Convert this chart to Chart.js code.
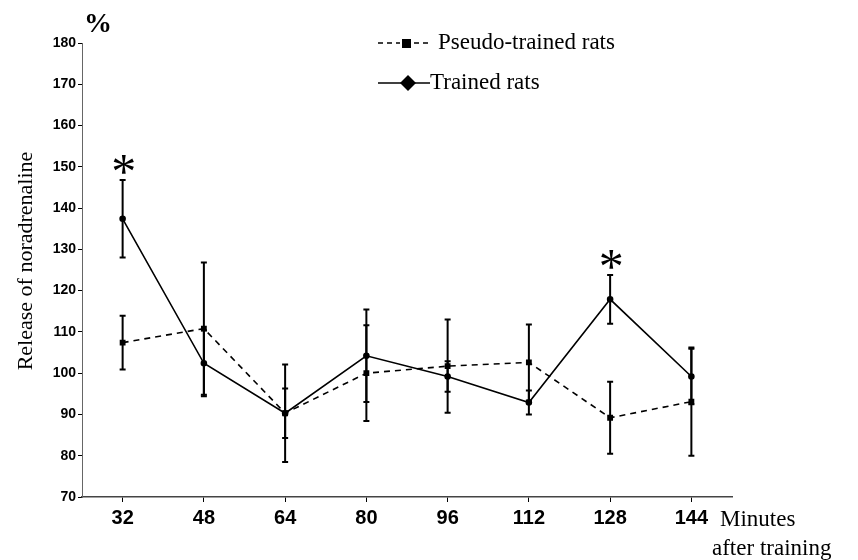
<!DOCTYPE html>
<html>
<head>
<meta charset="utf-8">
<script src="https://cdn.jsdelivr.net/npm/chart.js"></script>
<style>
  html, body { margin: 0; padding: 0; background: #fff; }
  #wrap { width: 858px; height: 560px; }
</style>
</head>
<body>
<div id="wrap"><canvas id="grafico"></canvas></div>
<script>
// Datos
const minutos = ['32', '48', '64', '80', '96', '112', '128', '144'];
const pseudoMedia = [107.4, 110.8, 90.3, 100.0, 101.7, 102.6, 89.2, 93.1];
const pseudoError = [6.5, 16.0, 11.8, 11.6, 11.3, 9.2, 8.7, 13.1];
const entrenadosMedia = [137.4, 102.4, 90.3, 104.2, 99.2, 92.9, 117.9, 99.2];
const entrenadosError = [9.4, 8.0, 6.0, 11.2, 3.7, 2.9, 5.9, 6.7];
const significativos = ['32', '128'];
const ticksY = [70, 80, 90, 100, 110, 120, 130, 140, 150, 160, 170, 180];

const serif = '"Liberation Serif", "Times New Roman", serif';
const sans = '"Liberation Sans", Arial, sans-serif';

// Barras de error, asteriscos y textos sueltos
const extras = {
  id: 'extras',
  afterDatasetsDraw(chart) {
    const ctx = chart.ctx;
    const x = chart.scales.x, y = chart.scales.y;
    ctx.save();
    ctx.strokeStyle = '#000';
    ctx.lineWidth = 2;
    const barras = (medias, errores) => {
      medias.forEach((m, i) => {
        const px = x.getPixelForValue(i);
        const top = y.getPixelForValue(m + errores[i]);
        const bot = y.getPixelForValue(m - errores[i]);
        ctx.beginPath();
        ctx.moveTo(px, top); ctx.lineTo(px, bot);
        ctx.moveTo(px - 3, top); ctx.lineTo(px + 3, top);
        ctx.moveTo(px - 3, bot); ctx.lineTo(px + 3, bot);
        ctx.stroke();
      });
    };
    barras(pseudoMedia, pseudoError);
    barras(entrenadosMedia, entrenadosError);

    // asteriscos de significancia
    ctx.fillStyle = '#000';
    ctx.font = '50px ' + serif;
    ctx.textAlign = 'center';
    ctx.textBaseline = 'alphabetic';
    significativos.forEach(lbl => {
      const i = minutos.indexOf(lbl);
      const px = x.getPixelForValue(i);
      const top = y.getPixelForValue(entrenadosMedia[i] + entrenadosError[i]);
      ctx.fillText('*', px + 1, top + 8);
    });

    // %
    ctx.font = 'bold 28px ' + serif;
    ctx.textAlign = 'left';
    ctx.fillText('%', 84, 32);

    // título eje Y
    ctx.save();
    ctx.translate(26, 261);
    ctx.rotate(-Math.PI / 2);
    ctx.textAlign = 'center';
    ctx.textBaseline = 'middle';
    ctx.font = '22px ' + serif;
    ctx.fillText('Release of noradrenaline', 0, 0);
    ctx.restore();

    // título eje X
    ctx.font = '23px ' + serif;
    ctx.textAlign = 'left';
    ctx.textBaseline = 'middle';
    ctx.fillText('Minutes', 720, 520);
    ctx.fillText('after training', 712, 549);

    // leyenda
    ctx.lineWidth = 1.5;
    ctx.setLineDash([5, 4]);
    ctx.beginPath(); ctx.moveTo(378, 43); ctx.lineTo(432, 43); ctx.stroke();
    ctx.setLineDash([]);
    ctx.fillStyle = '#fff';
    ctx.fillRect(400, 38, 12, 10);
    ctx.fillStyle = '#000';
    ctx.fillRect(402, 39, 9, 9);
    ctx.beginPath(); ctx.moveTo(378, 83); ctx.lineTo(430, 83); ctx.stroke();
    ctx.beginPath();
    ctx.moveTo(408, 75); ctx.lineTo(416, 83); ctx.lineTo(408, 91); ctx.lineTo(400, 83);
    ctx.closePath(); ctx.fill();
    ctx.font = '23px ' + serif;
    ctx.fillText('Pseudo-trained rats', 438, 43);
    ctx.fillText('Trained rats', 430, 83);
    ctx.restore();
  }
};

new Chart(document.getElementById('grafico').getContext('2d'), {
  type: 'line',
  data: {
    labels: minutos,
    datasets: [
      {
        label: 'Pseudo-trained rats',
        data: pseudoMedia,
        borderColor: '#000',
        backgroundColor: '#000',
        borderWidth: 1.6,
        borderDash: [6, 5],
        pointStyle: 'rect',
        pointRadius: 3,
        tension: 0
      },
      {
        label: 'Trained rats',
        data: entrenadosMedia,
        borderColor: '#000',
        backgroundColor: '#000',
        borderWidth: 1.6,
        pointStyle: 'circle',
        pointRadius: 2.5,
        tension: 0
      }
    ]
  },
  options: {
    responsive: true,
    maintainAspectRatio: false,
    animation: false,
    layout: { padding: { top: 43, right: 126, left: 0, bottom: 0 } },
    plugins: {
      legend: { display: false },
      tooltip: { enabled: false }
    },
    scales: {
      x: {
        offset: true,
        grid: { display: true, drawOnChartArea: false, tickLength: 5, color: '#000', offset: false },
        border: { color: '#444', width: 1.5 },
        ticks: { color: '#000', font: { family: sans, size: 20, weight: 'bold' }, padding: 4, maxRotation: 0 },
        afterFit: s => { s.height = 63; }
      },
      y: {
        min: 70,
        max: 180,
        afterBuildTicks: s => { s.ticks = ticksY.map(v => ({ value: v })); },
        grid: { display: true, drawOnChartArea: false, tickLength: 4, color: '#000' },
        border: { color: '#666', width: 1 },
        ticks: { color: '#000', font: { family: sans, size: 14, weight: 'bold' }, padding: 2 },
        afterFit: s => { s.width = 82; }
      }
    }
  },
  plugins: [extras]
});
</script>
</body>
</html>
